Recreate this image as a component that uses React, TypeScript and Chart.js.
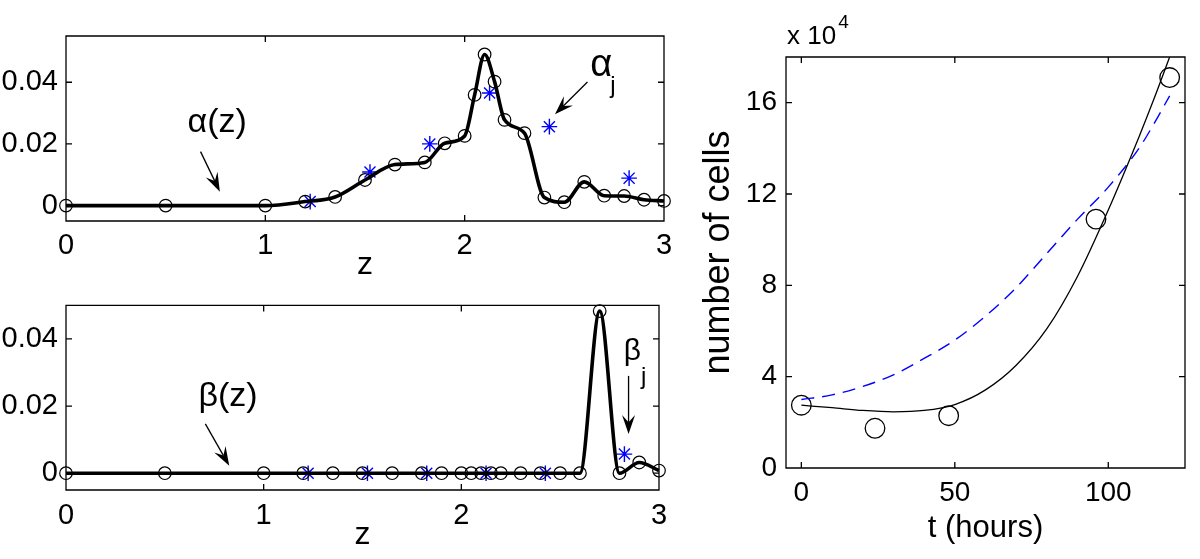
import React, { useEffect, useRef } from 'react';
import { Chart, registerables } from 'chart.js';

Chart.register(...registerables);

const FONT = "'Liberation Sans', Arial, Helvetica, sans-serif";

// ---- left panels: coefficient profiles on the z grid ----
const Z_GRID = [0, 0.5, 1, 1.2, 1.35, 1.5, 1.65, 1.8, 1.9, 2.0, 2.05, 2.1, 2.15, 2.2, 2.3, 2.4, 2.5, 2.6, 2.7, 2.8, 2.9, 3.0];
const ALPHA_Z = [0, 0, 0, 0.0013, 0.0028, 0.0083, 0.0133, 0.014, 0.0202, 0.0226, 0.0359, 0.049, 0.0402, 0.0278, 0.0235, 0.0026, 0.0011, 0.0077, 0.0032, 0.0031, 0.0019, 0.0015];
const BETA_Z = [0, 0, 0, 0, 0, 0, 0, 0, 0, 0, 0, 0, 0, 0, 0, 0, 0, 0, 0.0483, 0, 0.0032, 0.0008];
const Z_J = [1.225, 1.525, 1.825, 2.125, 2.425, 2.825];
const ALPHA_J = [0.0013, 0.0109, 0.02, 0.0365, 0.0256, 0.0089];
const BETA_J = [0, 0, 0, 0, 0, 0.0057];
const Z_TICKS = [0, 1, 2, 3];
const COEF_TICKS = [0, 0.02, 0.04];

// ---- right panel: cell counts ----
const T_OBS = [0, 24, 48, 96, 120];
const CELLS_OBS = [27500, 17400, 22900, 109000, 171000];
const T_FIT = [0, 10, 20, 30, 40, 50, 60, 70, 80, 90, 100, 110, 115, 120];
const CELLS_FIT = [27500, 26400, 25200, 24600, 25200, 27800, 34200, 45000, 61000, 84000, 113000, 145000, 162000, 180000];
const CELLS_MODEL = [30000, 32000, 35700, 40800, 48000, 56000, 66500, 79000, 94000, 109000, 123000, 140000, 151000, 163000];
const T_TICKS = [0, 50, 100];
const CELLS_TICKS = [0, 40000, 80000, 120000, 160000];

const zip = (xs: number[], ys: number[]) => xs.map((x, i) => ({ x, y: ys[i] }));
const fixTicks = (vals: number[]) => (scale: any) => {
  scale.ticks = vals.map((v) => ({ value: v }));
};

function drawArrow(ctx: CanvasRenderingContext2D, x1: number, y1: number, x2: number, y2: number) {
  const headLen = 19;
  const headW = 13;
  const ang = Math.atan2(y2 - y1, x2 - x1);
  const ux = Math.cos(ang);
  const uy = Math.sin(ang);
  const px = -uy;
  const py = ux;
  const bx = x2 - ux * headLen;
  const by = y2 - uy * headLen;
  const nx = x2 - ux * headLen * 0.62;
  const ny = y2 - uy * headLen * 0.62;
  ctx.lineWidth = 1.3;
  ctx.beginPath();
  ctx.moveTo(x1, y1);
  ctx.lineTo(nx, ny);
  ctx.stroke();
  ctx.beginPath();
  ctx.moveTo(x2, y2);
  ctx.lineTo(bx + (px * headW) / 2, by + (py * headW) / 2);
  ctx.lineTo(nx, ny);
  ctx.lineTo(bx - (px * headW) / 2, by - (py * headW) / 2);
  ctx.closePath();
  ctx.fill();
}

const framePlugin = {
  id: 'matlabFrame',
  afterDatasetsDraw(chart: any) {
    const o = chart.options.plugins.matlabFrame;
    if (!o) return;
    const { ctx, chartArea, scales } = chart;
    const { left, right, top, bottom } = chartArea;
    const len = o.tickLen;
    ctx.save();
    ctx.strokeStyle = '#000';
    ctx.lineWidth = 1.3;
    ctx.beginPath();
    ctx.rect(left, top, right - left, bottom - top);
    for (const v of o.xTicks) {
      const p = scales.x.getPixelForValue(v);
      ctx.moveTo(p, bottom);
      ctx.lineTo(p, bottom - len);
      ctx.moveTo(p, top);
      ctx.lineTo(p, top + len);
    }
    for (const v of o.yTicks) {
      const p = scales.y.getPixelForValue(v);
      ctx.moveTo(left, p);
      ctx.lineTo(left + len, p);
      ctx.moveTo(right, p);
      ctx.lineTo(right - len, p);
    }
    ctx.stroke();
    ctx.fillStyle = '#000';
    if (o.exponent) {
      ctx.textAlign = 'left';
      ctx.textBaseline = 'alphabetic';
      ctx.font = `26px ${FONT}`;
      ctx.fillText(o.exponent.base, left + 1, top - 13);
      const w = ctx.measureText(o.exponent.base).width;
      ctx.font = `19px ${FONT}`;
      ctx.fillText(o.exponent.power, left + 1 + w + 2, top - 29);
    }
    if (o.yTitle) {
      ctx.save();
      ctx.translate(left - o.yTitle.dx, (top + bottom) / 2 + o.yTitle.dy);
      ctx.rotate(-Math.PI / 2);
      ctx.textAlign = 'center';
      ctx.textBaseline = 'middle';
      ctx.font = `${o.yTitle.size}px ${FONT}`;
      ctx.fillText(o.yTitle.text, 0, 0);
      ctx.restore();
    }
    ctx.restore();
  },
};

const notesPlugin = {
  id: 'notes',
  afterDatasetsDraw(chart: any) {
    const o = chart.options.plugins.notes;
    if (!o) return;
    const { ctx, scales } = chart;
    ctx.save();
    ctx.fillStyle = '#000';
    ctx.strokeStyle = '#000';
    ctx.textAlign = 'left';
    ctx.textBaseline = 'alphabetic';
    for (const t of o.texts) {
      const px = scales.x.getPixelForValue(t.x);
      const py = scales.y.getPixelForValue(t.y);
      ctx.font = `${t.size}px ${FONT}`;
      ctx.fillText(t.text, px, py);
      if (t.sub) {
        const w = ctx.measureText(t.text).width;
        ctx.font = `${t.subSize}px ${FONT}`;
        ctx.fillText(t.sub, px + w + t.subDx, py + t.subDy);
      }
    }
    for (const a of o.arrows) {
      drawArrow(
        ctx,
        scales.x.getPixelForValue(a.x1),
        scales.y.getPixelForValue(a.y1),
        scales.x.getPixelForValue(a.x2),
        scales.y.getPixelForValue(a.y2)
      );
    }
    ctx.restore();
  },
};

function useChart(ref: React.RefObject<HTMLCanvasElement>, makeConfig: () => any) {
  useEffect(() => {
    if (!ref.current) return;
    const chart = new Chart(ref.current, makeConfig());
    return () => chart.destroy();
  }, []);
}

function coefConfig(opts: {
  values: number[];
  stars: number[];
  yMax: number;
  padRight: number;
  padTop: number;
  xAxisH: number;
  tickPad: number;
  titlePadBottom: number;
  notes: any;
}) {
  return {
    type: 'line',
    data: {
      datasets: [
        {
          data: zip(Z_GRID, opts.values),
          borderColor: '#000',
          borderWidth: 3.6,
          cubicInterpolationMode: 'monotone',
          pointStyle: 'circle',
          pointRadius: 6.3,
          pointBorderWidth: 1.2,
          pointBorderColor: '#000',
          pointBackgroundColor: 'rgba(0,0,0,0)',
          clip: false,
        },
        {
          data: zip(Z_J, opts.stars),
          showLine: false,
          pointStyle: 'star',
          pointRadius: 7.8,
          pointBorderWidth: 1.4,
          pointBorderColor: '#0000ff',
          pointBackgroundColor: '#0000ff',
          clip: false,
        },
      ],
    },
    options: {
      responsive: false,
      maintainAspectRatio: false,
      animation: false,
      events: [],
      layout: { padding: { left: 0, right: opts.padRight, top: opts.padTop, bottom: 0 } },
      plugins: {
        legend: { display: false },
        tooltip: { enabled: false },
        matlabFrame: { xTicks: Z_TICKS, yTicks: COEF_TICKS, tickLen: 6 },
        notes: opts.notes,
      },
      scales: {
        x: {
          type: 'linear',
          min: 0,
          max: 3,
          afterBuildTicks: fixTicks(Z_TICKS),
          afterFit: (s: any) => {
            s.height = opts.xAxisH;
          },
          grid: { display: false, drawTicks: false },
          border: { display: false },
          ticks: {
            color: '#000',
            font: { family: FONT, size: 29 },
            padding: opts.tickPad,
            maxRotation: 0,
            autoSkip: false,
            callback: (v: number) => String(v),
          },
          title: {
            display: true,
            text: 'z',
            color: '#000',
            font: { family: FONT, size: 32, lineHeight: 1 },
            padding: { top: 0, bottom: opts.titlePadBottom },
          },
        },
        y: {
          type: 'linear',
          min: -0.005,
          max: opts.yMax,
          afterBuildTicks: fixTicks(COEF_TICKS),
          afterFit: (s: any) => {
            s.width = 66;
          },
          grid: { display: false, drawTicks: false },
          border: { display: false },
          ticks: {
            color: '#000',
            font: { family: FONT, size: 29 },
            padding: 8,
            autoSkip: false,
            callback: (v: number) => String(v),
          },
        },
      },
    },
    plugins: [framePlugin, notesPlugin],
  };
}

function cellsConfig() {
  return {
    type: 'line',
    data: {
      datasets: [
        {
          data: zip(T_FIT, CELLS_FIT),
          borderColor: '#000',
          borderWidth: 1.3,
          cubicInterpolationMode: 'monotone',
          pointRadius: 0,
        },
        {
          data: zip(T_FIT, CELLS_MODEL),
          borderColor: '#0000ff',
          borderWidth: 1.4,
          borderDash: [13, 8],
          cubicInterpolationMode: 'monotone',
          pointRadius: 0,
        },
        {
          data: zip(T_OBS, CELLS_OBS),
          showLine: false,
          pointStyle: 'circle',
          pointRadius: 9.8,
          pointBorderWidth: 1.3,
          pointBorderColor: '#000',
          pointBackgroundColor: 'rgba(0,0,0,0)',
          clip: false,
        },
      ],
    },
    options: {
      responsive: false,
      maintainAspectRatio: false,
      animation: false,
      events: [],
      layout: { padding: { left: 0, right: 15, top: 57, bottom: 0 } },
      plugins: {
        legend: { display: false },
        tooltip: { enabled: false },
        matlabFrame: {
          xTicks: T_TICKS,
          yTicks: CELLS_TICKS,
          tickLen: 6,
          exponent: { base: 'x 10', power: '4' },
          yTitle: { text: 'number of cells', size: 36, dx: 67, dy: -10 },
        },
      },
      scales: {
        x: {
          type: 'linear',
          min: -5,
          max: 125,
          afterBuildTicks: fixTicks(T_TICKS),
          afterFit: (s: any) => {
            s.height = 91;
          },
          grid: { display: false, drawTicks: false },
          border: { display: false },
          ticks: {
            color: '#000',
            font: { family: FONT, size: 28 },
            padding: 8,
            maxRotation: 0,
            autoSkip: false,
            callback: (v: number) => String(v),
          },
          title: {
            display: true,
            text: 't (hours)',
            color: '#000',
            font: { family: FONT, size: 31, lineHeight: 1 },
            padding: { top: 0, bottom: 15 },
          },
        },
        y: {
          type: 'linear',
          min: 0,
          max: 180000,
          afterBuildTicks: fixTicks(CELLS_TICKS),
          afterFit: (s: any) => {
            s.width = 86;
          },
          grid: { display: false, drawTicks: false },
          border: { display: false },
          ticks: {
            color: '#000',
            font: { family: FONT, size: 28 },
            padding: 9,
            autoSkip: false,
            callback: (v: number) => String(v / 10000),
          },
        },
      },
    },
    plugins: [framePlugin],
  };
}

export default function App() {
  const alphaRef = useRef<HTMLCanvasElement>(null);
  const betaRef = useRef<HTMLCanvasElement>(null);
  const cellsRef = useRef<HTMLCanvasElement>(null);

  useChart(alphaRef, () =>
    coefConfig({
      values: ALPHA_Z,
      stars: ALPHA_J,
      yMax: 0.055,
      padRight: 36,
      padTop: 36,
      xAxisH: 69,
      tickPad: 8,
      titlePadBottom: 9,
      notes: {
        texts: [
          { text: 'α(z)', x: 0.61, y: 0.024, size: 34 },
          { text: 'α', sub: 'j', x: 2.63, y: 0.0421, size: 38, subSize: 24, subDx: -2, subDy: 17 },
        ],
        arrows: [
          { x1: 0.675, y1: 0.0175, x2: 0.772, y2: 0.0045 },
          { x1: 2.616, y1: 0.0401, x2: 2.453, y2: 0.0296 },
        ],
      },
    })
  );

  useChart(betaRef, () =>
    coefConfig({
      values: BETA_Z,
      stars: BETA_J,
      yMax: 0.05,
      padRight: 41,
      padTop: 23,
      xAxisH: 69,
      tickPad: 9,
      titlePadBottom: 8,
      notes: {
        texts: [
          { text: 'β(z)', x: 0.67, y: 0.02, size: 34 },
          { text: 'β', sub: 'j', x: 2.822, y: 0.0337, size: 30, subSize: 24, subDx: 0, subDy: 24 },
        ],
        arrows: [
          { x1: 0.705, y1: 0.0147, x2: 0.826, y2: 0.0022 },
          { x1: 2.846, y1: 0.029, x2: 2.846, y2: 0.0117 },
        ],
      },
    })
  );

  useChart(cellsRef, cellsConfig);

  const box = (left: number, top: number, w: number, h: number): React.CSSProperties => ({
    position: 'absolute',
    left,
    top,
    width: w,
    height: h,
  });

  return (
    <div style={{ position: 'absolute', left: 0, top: 0, width: 1200, height: 559, background: '#fff', overflow: 'hidden' }}>
      <div style={box(0, 0, 700, 290)}>
        <canvas ref={alphaRef} width={700} height={290} />
      </div>
      <div style={box(0, 280, 700, 279)}>
        <canvas ref={betaRef} width={700} height={279} />
      </div>
      <div style={box(700, 0, 500, 559)}>
        <canvas ref={cellsRef} width={500} height={559} />
      </div>
    </div>
  );
}
